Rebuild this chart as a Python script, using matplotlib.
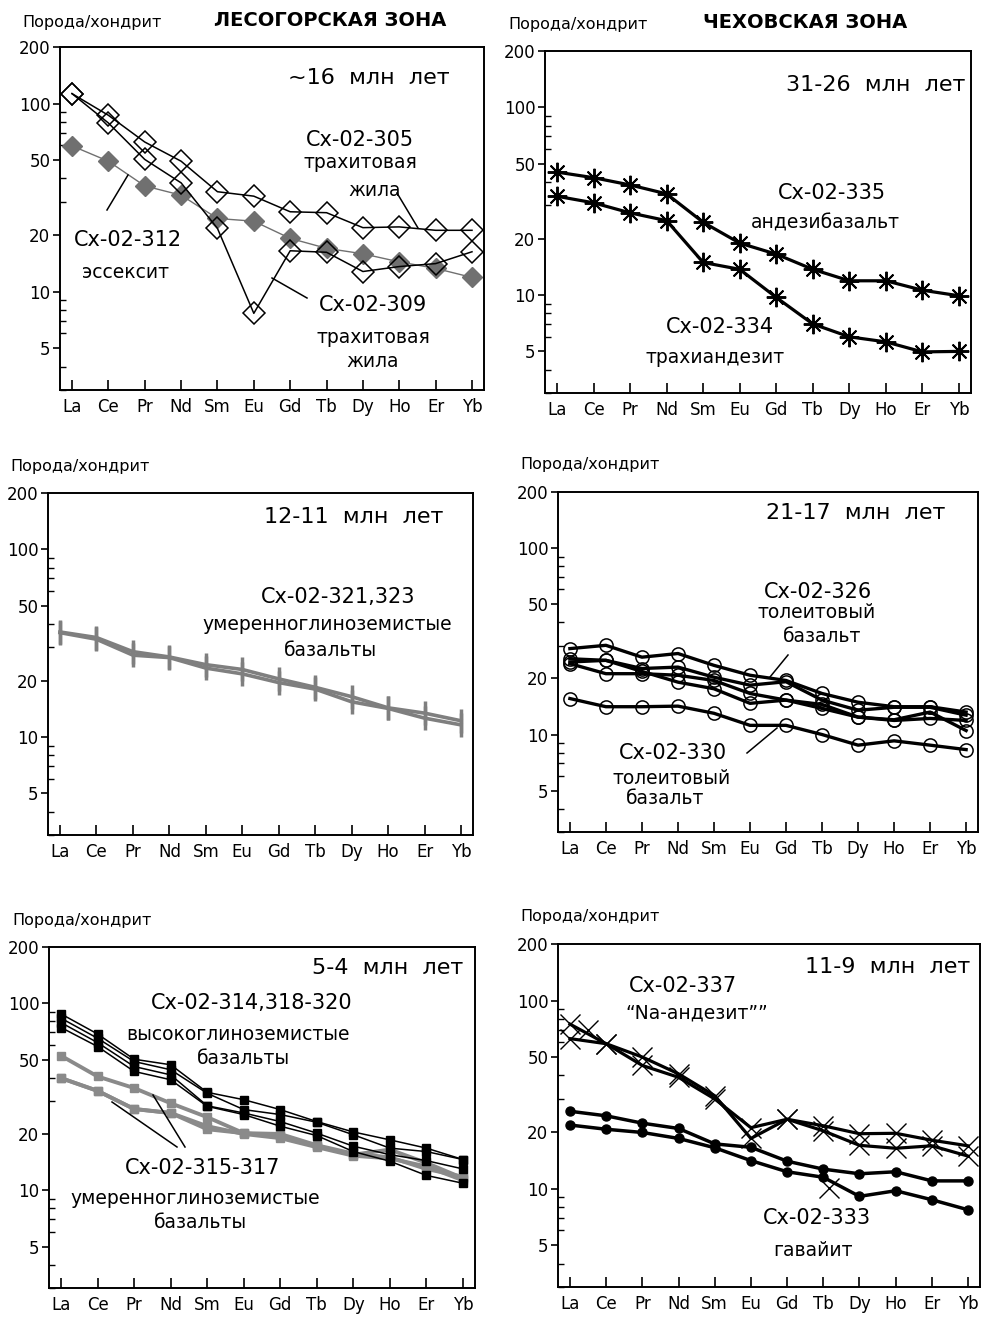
import matplotlib
matplotlib.use('Agg')
import matplotlib.pyplot as plt
from matplotlib.lines import Line2D

# ==========================================
# 1. Data (chondrite-normalised REE)
# ==========================================

ELEMENTS = ['La', 'Ce', 'Pr', 'Nd', 'Sm', 'Eu', 'Gd', 'Tb', 'Dy', 'Ho', 'Er', 'Yb']
Y_MAJOR = [5, 10, 20, 50, 100, 200]
Y_MINOR = [3, 4, 6, 7, 8, 9, 30, 40, 60, 70, 80, 90]

# Лесогорская зона, ~16 млн лет
cx305 = [113, 86.7, 62.5, 49.4, 34.0, 32.2, 26.6, 26.3, 21.9, 22.1, 21.2, 21.2]
cx309 = [113, 78.9, 50.5, 37.9, 21.7, 7.67, 16.5, 16.2, 12.8, 13.6, 14.1, 16.3]
cx312 = [59.6, 49.4, 36.5, 32.6, 24.5, 23.7, 19.2, 17.0, 15.9, 14.4, 13.3, 11.9]

# Чеховская зона, 31-26 млн лет
cx335 = [45.2, 42.2, 38.6, 34.6, 24.4, 18.9, 16.5, 13.7, 11.9, 11.9, 10.6, 9.9]
cx334 = [33.6, 31.0, 27.4, 24.9, 14.9, 13.7, 9.7, 7.0, 5.98, 5.62, 4.97, 5.0]

# 12-11 млн лет
cx321 = [36.3, 33.9, 28.5, 26.7, 24.3, 22.9, 20.4, 18.4, 16.4, 14.3, 13.4, 12.2]
cx323 = [36.0, 33.2, 27.3, 26.5, 23.3, 21.7, 19.5, 18.0, 15.4, 14.2, 12.6, 11.6]

# 21-17 млн лет
cx326_a = [28.9, 30.1, 26.0, 27.2, 23.5, 20.8, 19.5, 16.6, 14.9, 14.1, 14.1, 13.2]
cx326_b = [25.5, 25.0, 22.6, 23.0, 20.3, 18.4, 19.2, 15.3, 13.5, 14.0, 14.0, 12.7]
cx326_c = [24.0, 21.2, 21.2, 20.8, 19.5, 16.6, 15.3, 14.5, 12.4, 11.9, 12.2, 11.9]
cx326_d = [24.5, 25.0, 21.8, 19.1, 17.6, 14.7, 15.3, 13.8, 12.4, 12.0, 13.2, 10.5]
cx330 = [15.6, 14.1, 14.1, 14.2, 13.0, 11.2, 11.2, 10.0, 8.77, 9.25, 8.77, 8.3]

# 5-4 млн лет
cx314 = [87.7, 68.5, 50.2, 46.9, 33.4, 30.5, 27.0, 23.3, 20.5, 18.6, 16.8, 14.6]
cx318 = [83.2, 65.0, 48.8, 44.1, 33.0, 27.0, 25.4, 23.1, 19.8, 16.8, 16.1, 14.6]
cx319 = [78.8, 61.6, 45.9, 41.4, 28.3, 25.9, 23.3, 20.2, 17.2, 15.5, 14.4, 13.0]
cx320 = [74.2, 58.7, 43.2, 39.0, 28.1, 25.4, 22.0, 19.6, 16.1, 14.3, 12.0, 10.9]
cx315 = [52.4, 40.6, 35.2, 29.2, 24.6, 20.2, 19.4, 17.2, 15.5, 16.5, 14.0, 11.6]
cx316 = [39.8, 34.0, 27.2, 25.9, 22.0, 20.0, 19.0, 17.0, 15.3, 14.8, 13.4, 11.3]
cx317 = [39.8, 34.0, 27.2, 25.9, 21.2, 20.2, 20.0, 17.4, 15.7, 15.0, 13.0, 11.8]

# 11-9 млн лет
cx337_a = [75.0, 59.0, 50.1, 40.8, 31.2, 18.5, 23.4, 21.6, 19.6, 19.7, 18.1, 16.9]
cx337_b = [62.8, 59.0, 45.2, 39.1, 30.0, 21.1, 23.4, 20.3, 17.0, 16.4, 16.9, 14.9]
cx337_extra_x = [0.5, 7.15]
cx337_extra_y = [69.6, 10.1]
cx333_a = [25.8, 24.4, 22.3, 20.9, 17.3, 16.6, 14.0, 12.7, 12.0, 12.3, 11.0, 11.0]
cx333_b = [21.8, 20.7, 19.9, 18.5, 16.5, 14.1, 12.3, 11.5, 9.1, 9.75, 8.73, 7.72]

# ==========================================
# 2. Helpers
# ==========================================

W, H = 983, 1318
plt.rcParams['font.family'] = ['DejaVu Sans']

fig = plt.figure(figsize=(W / 100, H / 100), dpi=100)
X = list(range(len(ELEMENTS)))


def make_axes(left, top, right, bottom):
    """Axes box given in pixel coordinates of the picture."""
    ax = fig.add_axes([left / W, 1 - bottom / H, (right - left) / W, (bottom - top) / H])
    ax.set_yscale('log')
    ax.set_ylim(3, 200)
    ax.set_xlim(-0.33, 11.33)
    ax.set_xticks(X)
    ax.set_xticklabels(ELEMENTS)
    ax.set_yticks(Y_MAJOR)
    ax.set_yticklabels([str(v) for v in Y_MAJOR])
    ax.set_yticks(Y_MINOR, minor=True)
    ax.set_yticklabels([], minor=True)
    ax.tick_params(axis='x', direction='in', length=7, width=1.2, labelsize=12, pad=6)
    ax.tick_params(axis='y', which='major', direction='out', length=5, width=1.2,
                   labelsize=12, pad=2)
    ax.tick_params(axis='y', which='minor', direction='in', length=4, width=1)
    for sp in ax.spines.values():
        sp.set_linewidth(1.4)
    return ax


def label(x, y, s, size=13.5, ha='center', **kw):
    fig.text(x / W, 1 - y / H, s, fontsize=size, ha=ha, va='center', **kw)


def leader(x0, y0, x1, y1):
    fig.add_artist(Line2D([x0 / W, x1 / W], [1 - y0 / H, 1 - y1 / H],
                          color='k', lw=1.1, transform=fig.transFigure))


# ==========================================
# 3. Panels
# ==========================================

# --- ~16 млн лет ---
ax = make_axes(60, 47, 484, 390)
ax.plot(X, cx312, color='#707070', lw=1.0, marker='D', ms=10, mfc='#707070', mec='#707070')
for s in (cx305, cx309):
    ax.plot(X, s, color='k', lw=1.1, marker='D', ms=11.5, mfc='none', mec='k', mew=1.1)
label(22, 22, 'Порода/хондрит', 11.5, ha='left')
label(330, 20, 'ЛЕСОГОРСКАЯ ЗОНА', 14, fontweight='bold')
label(450, 78, '~16  млн  лет', 16, ha='right')
label(360, 140, 'Сх-02-305', 15)
label(360, 163, 'трахитовая')
label(375, 190, 'жила')
label(128, 240, 'Сх-02-312', 15)
label(125, 272, 'эссексит')
label(373, 305, 'Сх-02-309', 15)
label(373, 337, 'трахитовая')
label(373, 362, 'жила')
leader(397, 193, 418, 228)
leader(107, 210, 128, 175)
leader(307, 298, 272, 278)

# --- 31-26 млн лет ---
ax = make_axes(545, 51, 971, 393)
for s in (cx335, cx334):
    ax.plot(X, s, color='k', lw=2.3, marker=(8, 2, 0), ms=14, mew=1.4, mec='k')
label(508, 25, 'Порода/хондрит', 11.5, ha='left')
label(805, 23, 'ЧЕХОВСКАЯ ЗОНА', 14, fontweight='bold')
label(965, 85, '31-26  млн  лет', 16, ha='right')
label(832, 193, 'Сх-02-335', 15)
label(825, 223, 'андезибазальт')
label(720, 327, 'Сх-02-334', 15)
label(715, 358, 'трахиандезит')

# --- 12-11 млн лет ---
ax = make_axes(48, 493, 473, 835)
for s in (cx321, cx323):
    ax.plot(X, s, color='#7f7f7f', lw=2.6, marker='|', ms=17, mew=2.5)
label(10, 467, 'Порода/хондрит', 11.5, ha='left')
label(443, 517, '12-11  млн  лет', 16, ha='right')
label(338, 597, 'Сх-02-321,323', 15)
label(327, 625, 'умеренноглиноземистые')
label(330, 650, 'базальты')

# --- 21-17 млн лет ---
ax = make_axes(558, 492, 978, 832)
for s in (cx326_a, cx326_b, cx326_c, cx326_d, cx330):
    ax.plot(X, s, color='k', lw=2.4, marker='o', ms=9.5, mfc='none', mec='k', mew=1.1)
label(520, 465, 'Порода/хондрит', 11.5, ha='left')
label(945, 513, '21-17  млн  лет', 16, ha='right')
label(818, 592, 'Сх-02-326', 15)
label(817, 613, 'толеитовый')
label(822, 637, 'базальт')
label(673, 753, 'Сх-02-330', 15)
label(672, 778, 'толеитовый')
label(665, 798, 'базальт')
leader(770, 677, 788, 655)
leader(747, 753, 777, 728)

# --- 5-4 млн лет ---
ax = make_axes(49, 947, 475, 1288)
for s in (cx315, cx316, cx317):
    ax.plot(X, s, color='#8a8a8a', lw=2.8, marker='s', ms=6, mfc='#8a8a8a', mec='#8a8a8a')
for s in (cx314, cx318, cx319, cx320):
    ax.plot(X, s, color='k', lw=1.1, marker='s', ms=6, mfc='k', mec='k')
label(12, 920, 'Порода/хондрит', 11.5, ha='left')
label(463, 968, '5-4  млн  лет', 16, ha='right')
label(252, 1003, 'Сх-02-314,318-320', 15)
label(238, 1035, 'высокоглиноземистые')
label(243, 1059, 'базальты')
label(203, 1168, 'Сх-02-315-317', 15)
label(195, 1198, 'умеренноглиноземистые')
label(200, 1223, 'базальты')
leader(112, 1102, 177, 1147)
leader(153, 1095, 185, 1147)

# --- 11-9 млн лет ---
ax = make_axes(558, 944, 980, 1287)
for s in (cx337_a, cx337_b):
    ax.plot(X, s, color='k', lw=2.3, marker='x', ms=15, mew=1.0)
ax.plot(cx337_extra_x, cx337_extra_y, ls='none', color='k', marker='x', ms=15, mew=1.0)
for s in (cx333_a, cx333_b):
    ax.plot(X, s, color='k', lw=2.5, marker='o', ms=6.5, mfc='k', mec='k')
label(520, 917, 'Порода/хондрит', 11.5, ha='left')
label(970, 967, '11-9  млн  лет', 16, ha='right')
label(683, 986, 'Сх-02-337', 15)
label(697, 1013, '“Na-андезит””')
label(817, 1218, 'Сх-02-333', 15)
label(813, 1250, 'гавайит')

fig.savefig('out.png', dpi=100)
